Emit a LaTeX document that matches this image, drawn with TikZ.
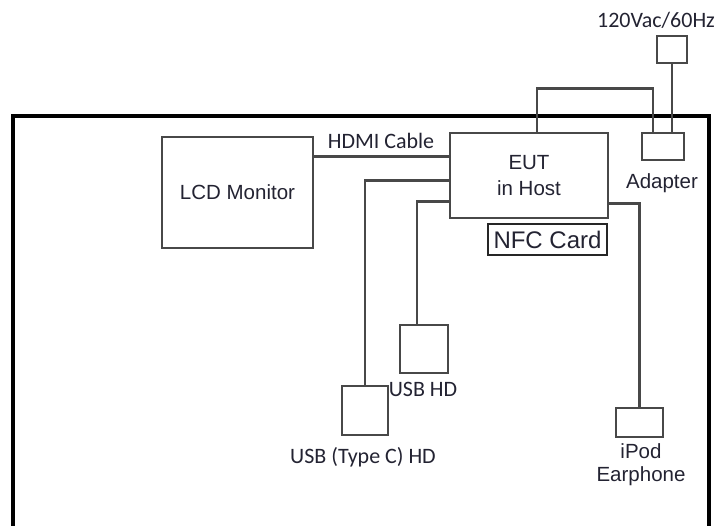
\documentclass[tikz,border=0pt]{standalone}
\usepackage{fontspec}
\setmainfont{Liberation Sans}
\newfontfamily\califont{Carlito}
\usepackage{tikz}
\usetikzlibrary{positioning}
\definecolor{wiregray}{RGB}{72,72,72}
\definecolor{labeldark}{RGB}{35,35,50}

\begin{document}
\begin{tikzpicture}[x=1pt, y=-1pt,
      every node/.style={text=labeldark},
      devbox/.style={draw=wiregray, line width=2.8pt, fill=white, inner sep=0pt, align=center, font=\fontsize{20.5}{26}\selectfont},
      wire/.style={draw=wiregray, line width=2.8pt},
      armlbl/.style={font=\fontsize{20.5}{23}\selectfont, align=center},
      callbl/.style={font=\califont\fontsize{22}{24}\selectfont}
    ]
      \useasboundingbox (0,0) rectangle (719,525);

      % test table outline (open at the bottom)
      \draw[line width=4.2pt, black] (13,527) -- (13,116) -- (709,116) -- (709,527);

      % Row 1: monitor, EUT, NFC card
      \node[devbox, minimum width=151pt, minimum height=111pt] (lcd) at (237.5,192.5) {LCD Monitor};
      \node[devbox, minimum width=158pt, minimum height=85pt] (eut) at (529,175.5) {EUT\\in Host};
      \node[devbox, line width=2.2pt, draw=black!85, minimum width=119pt, minimum height=31pt, font=\fontsize{24}{28}\selectfont] (nfc) at (547.5,239.5) {NFC Card};

      % power: plug -> adapter -> EUT
      \node[devbox, minimum width=30pt, minimum height=27pt] (plug) at (672,49.5) {};
      \node[callbl] (mains) at (656,20) {120Vac/60Hz};
      \node[devbox, minimum width=42pt, minimum height=27pt] (adapter) at (663,146.5) {};
      \node[armlbl] (adlbl) at (662,183) {Adapter};
      \draw[wire] (plug.south) -- (plug.south |- adapter.north);
      \draw[wire] ([xshift=8pt]eut.north) -- ++(0,-43) -| ([xshift=-10pt]adapter.north);

      % HDMI link
      \coordinate (hdmi) at ([yshift=-25pt]eut.north west);
      \draw[wire] (hdmi) -- (hdmi -| lcd.east);
      \node[callbl] (hdmilbl) at (381,141) {HDMI Cable};

      % Row 2: USB drives
      \node[devbox, minimum width=46pt, minimum height=49pt] (usbc) at (365,410.5) {};
      \node[callbl] (usbclbl) at (363,457) {USB (Type C) HD};
      \draw[wire] ([yshift=-49pt]eut.north west) -| (usbc.north);

      \node[devbox, minimum width=48pt, minimum height=48pt] (usbhd) at (424,349) {};
      \node[callbl] (usbhdlbl) at (423,389) {USB HD};
      \draw[wire] ([yshift=-70pt]eut.north west) -| ([xshift=-7pt]usbhd.north);

      % Row 3: earphone
      \node[devbox, minimum width=47pt, minimum height=29pt] (ipod) at (639.5,422.5) {};
      \node[armlbl] (ipodlbl) at (641,465) {iPod\\Earphone};
      \draw[wire] ([yshift=-72pt]eut.north east) -| (ipod.north);
    \end{tikzpicture}
\end{document}
